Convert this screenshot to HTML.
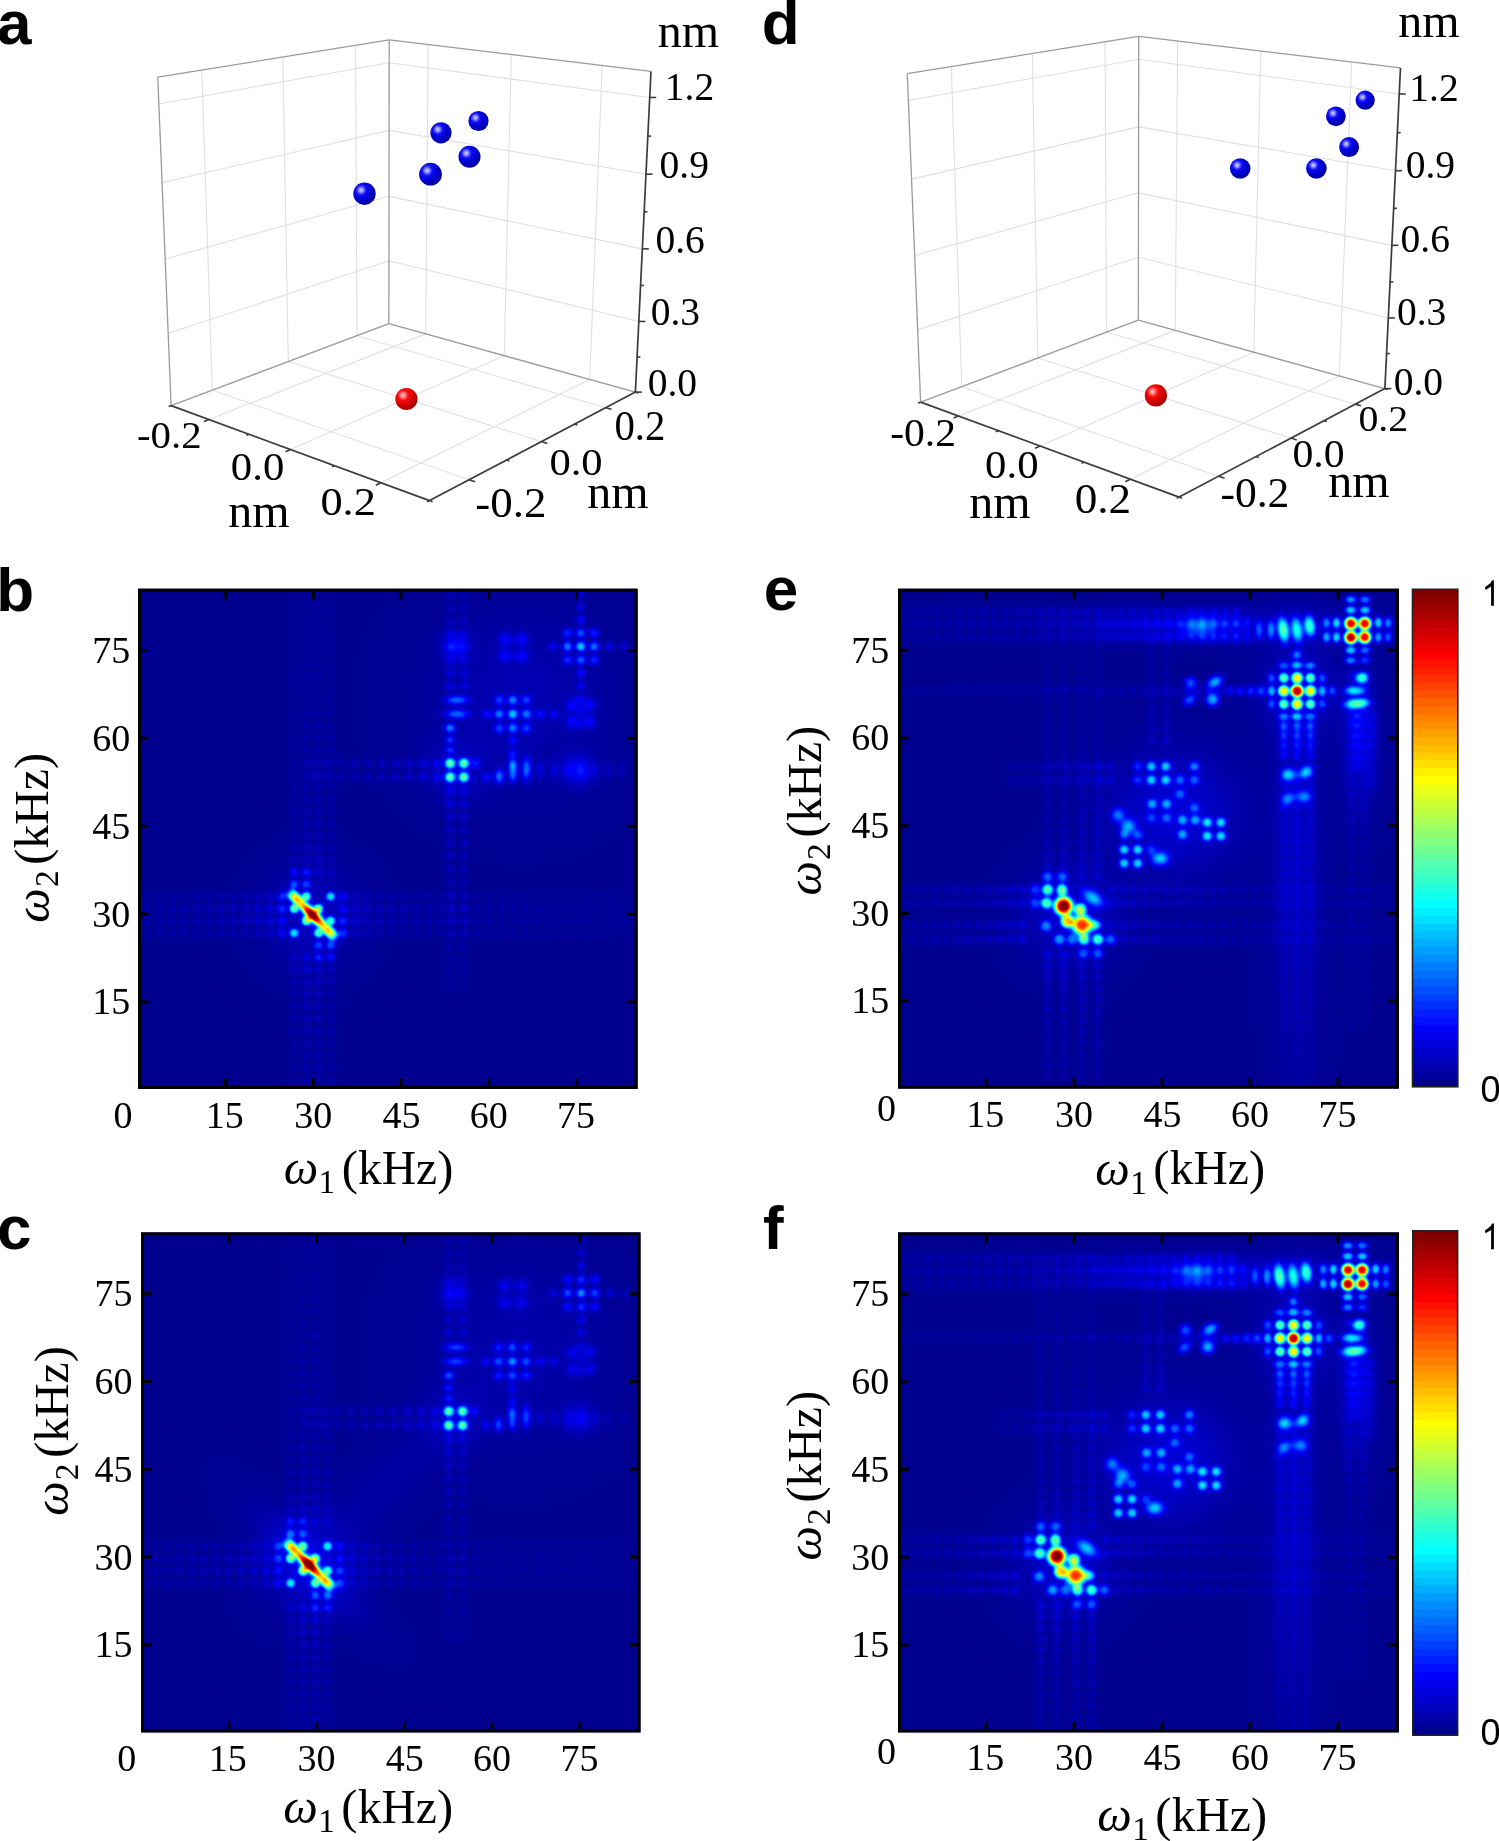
<!DOCTYPE html>
<html><head><meta charset="utf-8"><style>
html,body{margin:0;padding:0;background:#fff;}
body{width:1499px;height:1841px;position:relative;overflow:hidden;}
svg{position:absolute;left:0;top:0;}
canvas{display:block}
</style></head><body>
<svg width="1499" height="1841" style="z-index:0"><defs><filter id="fbb" x="-50%" y="-50%" width="200%" height="200%"><feGaussianBlur stdDeviation="2.5"/></filter></defs><rect x="138" y="588.7" width="499.6" height="500.3" fill="#00008f"/><rect x="141" y="1232.4" width="499.5" height="500" fill="#00008f"/><rect x="898" y="588.7" width="500.9" height="499.9" fill="#00008f"/><rect x="898" y="1232.4" width="500.9" height="500" fill="#00008f"/><ellipse cx="312.4" cy="914.8" rx="28" ry="9" transform="rotate(45 312.4 914.8)" fill="#30d0ff" filter="url(#fbb)"/><ellipse cx="312.4" cy="914.8" rx="22" ry="5" transform="rotate(45 312.4 914.8)" fill="#ffe000" filter="url(#fbb)"/><ellipse cx="312.4" cy="914.8" rx="9" ry="4" transform="rotate(45 312.4 914.8)" fill="#e00000" filter="url(#fbb)"/><ellipse cx="450.1" cy="763.3" rx="4.5" ry="4.5" transform="rotate(0 450.1 763.3)" fill="#20e0ff" filter="url(#fbb)"/><ellipse cx="463.8" cy="763.3" rx="4.5" ry="4.5" transform="rotate(0 463.8 763.3)" fill="#20e0ff" filter="url(#fbb)"/><ellipse cx="450.1" cy="777.2" rx="4.5" ry="4.5" transform="rotate(0 450.1 777.2)" fill="#20e0ff" filter="url(#fbb)"/><ellipse cx="463.8" cy="777.2" rx="4.5" ry="4.5" transform="rotate(0 463.8 777.2)" fill="#20e0ff" filter="url(#fbb)"/><ellipse cx="512.8" cy="714.1" rx="16" ry="16" transform="rotate(0 512.8 714.1)" fill="#0050ff" filter="url(#fbb)"/><ellipse cx="580.8" cy="646.5" rx="16" ry="16" transform="rotate(0 580.8 646.5)" fill="#0050ff" filter="url(#fbb)"/><ellipse cx="309.07" cy="1564.66" rx="28" ry="9" transform="rotate(45 309.07 1564.66)" fill="#30d0ff" filter="url(#fbb)"/><ellipse cx="309.07" cy="1564.66" rx="22" ry="5" transform="rotate(45 309.07 1564.66)" fill="#ffe000" filter="url(#fbb)"/><ellipse cx="309.07" cy="1564.66" rx="9" ry="4" transform="rotate(45 309.07 1564.66)" fill="#e00000" filter="url(#fbb)"/><ellipse cx="448.7" cy="1411.32" rx="4.5" ry="4.5" transform="rotate(0 448.7 1411.32)" fill="#20e0ff" filter="url(#fbb)"/><ellipse cx="462.59" cy="1411.32" rx="4.5" ry="4.5" transform="rotate(0 462.59 1411.32)" fill="#20e0ff" filter="url(#fbb)"/><ellipse cx="448.7" cy="1425.39" rx="4.5" ry="4.5" transform="rotate(0 448.7 1425.39)" fill="#20e0ff" filter="url(#fbb)"/><ellipse cx="462.59" cy="1425.39" rx="4.5" ry="4.5" transform="rotate(0 462.59 1425.39)" fill="#20e0ff" filter="url(#fbb)"/><ellipse cx="512.28" cy="1361.53" rx="16" ry="16" transform="rotate(0 512.28 1361.53)" fill="#0050ff" filter="url(#fbb)"/><ellipse cx="581.24" cy="1293.11" rx="16" ry="16" transform="rotate(0 581.24 1293.11)" fill="#0050ff" filter="url(#fbb)"/><ellipse cx="1070" cy="912" rx="26" ry="16" transform="rotate(45 1070 912)" fill="#20c0ff" filter="url(#fbb)"/><ellipse cx="1063.6" cy="906" rx="8" ry="8" transform="rotate(0 1063.6 906)" fill="#ffd000" filter="url(#fbb)"/><ellipse cx="1063.6" cy="906" rx="5" ry="5" transform="rotate(0 1063.6 906)" fill="#b00000" filter="url(#fbb)"/><ellipse cx="1082" cy="925" rx="7" ry="7" transform="rotate(0 1082 925)" fill="#ffb000" filter="url(#fbb)"/><ellipse cx="1082" cy="925" rx="4" ry="4" transform="rotate(0 1082 925)" fill="#ff4000" filter="url(#fbb)"/><ellipse cx="1357.8" cy="630.4" rx="13" ry="13" transform="rotate(0 1357.8 630.4)" fill="#40ffc0" filter="url(#fbb)"/><ellipse cx="1350.9" cy="623.5" rx="4" ry="4" transform="rotate(0 1350.9 623.5)" fill="#e00000" filter="url(#fbb)"/><ellipse cx="1364.8" cy="623.5" rx="4" ry="4" transform="rotate(0 1364.8 623.5)" fill="#e00000" filter="url(#fbb)"/><ellipse cx="1350.8" cy="637.5" rx="4" ry="4" transform="rotate(0 1350.8 637.5)" fill="#c00000" filter="url(#fbb)"/><ellipse cx="1364.7" cy="637.2" rx="4" ry="4" transform="rotate(0 1364.7 637.2)" fill="#e00000" filter="url(#fbb)"/><ellipse cx="1297.1" cy="691" rx="17" ry="17" transform="rotate(0 1297.1 691)" fill="#30e0d0" filter="url(#fbb)"/><ellipse cx="1297.1" cy="691" rx="5" ry="5" transform="rotate(0 1297.1 691)" fill="#ff2000" filter="url(#fbb)"/><ellipse cx="1296.9" cy="630" rx="16" ry="9" transform="rotate(0 1296.9 630)" fill="#0090ff" filter="url(#fbb)"/><ellipse cx="1358" cy="692" rx="10" ry="16" transform="rotate(0 1358 692)" fill="#1090ff" filter="url(#fbb)"/><ellipse cx="1175" cy="812" rx="45" ry="40" transform="rotate(0 1175 812)" fill="#0008b8" filter="url(#fbb)"/><ellipse cx="1063.43" cy="1562.33" rx="26" ry="16" transform="rotate(45 1063.43 1562.33)" fill="#20c0ff" filter="url(#fbb)"/><ellipse cx="1056.95" cy="1556.25" rx="8" ry="8" transform="rotate(0 1056.95 1556.25)" fill="#ffd000" filter="url(#fbb)"/><ellipse cx="1056.95" cy="1556.25" rx="5" ry="5" transform="rotate(0 1056.95 1556.25)" fill="#b00000" filter="url(#fbb)"/><ellipse cx="1075.59" cy="1575.51" rx="7" ry="7" transform="rotate(0 1075.59 1575.51)" fill="#ffb000" filter="url(#fbb)"/><ellipse cx="1075.59" cy="1575.51" rx="4" ry="4" transform="rotate(0 1075.59 1575.51)" fill="#ff4000" filter="url(#fbb)"/><ellipse cx="1354.97" cy="1276.93" rx="13" ry="13" transform="rotate(0 1354.97 1276.93)" fill="#40ffc0" filter="url(#fbb)"/><ellipse cx="1347.99" cy="1269.93" rx="4" ry="4" transform="rotate(0 1347.99 1269.93)" fill="#e00000" filter="url(#fbb)"/><ellipse cx="1362.07" cy="1269.93" rx="4" ry="4" transform="rotate(0 1362.07 1269.93)" fill="#e00000" filter="url(#fbb)"/><ellipse cx="1347.88" cy="1284.12" rx="4" ry="4" transform="rotate(0 1347.88 1284.12)" fill="#c00000" filter="url(#fbb)"/><ellipse cx="1361.96" cy="1283.82" rx="4" ry="4" transform="rotate(0 1361.96 1283.82)" fill="#e00000" filter="url(#fbb)"/><ellipse cx="1293.49" cy="1338.35" rx="17" ry="17" transform="rotate(0 1293.49 1338.35)" fill="#30e0d0" filter="url(#fbb)"/><ellipse cx="1293.49" cy="1338.35" rx="5" ry="5" transform="rotate(0 1293.49 1338.35)" fill="#ff2000" filter="url(#fbb)"/><ellipse cx="1293.28" cy="1276.52" rx="16" ry="9" transform="rotate(0 1293.28 1276.52)" fill="#0090ff" filter="url(#fbb)"/><ellipse cx="1355.18" cy="1339.36" rx="10" ry="16" transform="rotate(0 1355.18 1339.36)" fill="#1090ff" filter="url(#fbb)"/><ellipse cx="1169.8" cy="1460.98" rx="45" ry="40" transform="rotate(0 1169.8 1460.98)" fill="#0008b8" filter="url(#fbb)"/></svg>
<canvas id="hmb" width="496" height="498" style="position:absolute;left:140px;top:590px"></canvas><canvas id="hmc" width="496" height="497" style="position:absolute;left:143px;top:1234px"></canvas><canvas id="hme" width="497" height="497" style="position:absolute;left:900px;top:590px"></canvas><canvas id="hmf" width="497" height="497" style="position:absolute;left:900px;top:1234px"></canvas>
<svg width="1499" height="1841" style="z-index:2"><defs><linearGradient id="cb" x1="0" y1="1" x2="0" y2="0"><stop offset="0.00000" stop-color="#00008f"/><stop offset="0.01562" stop-color="#00008f"/><stop offset="0.01562" stop-color="#00009f"/><stop offset="0.03125" stop-color="#00009f"/><stop offset="0.03125" stop-color="#0000af"/><stop offset="0.04688" stop-color="#0000af"/><stop offset="0.04688" stop-color="#0000bf"/><stop offset="0.06250" stop-color="#0000bf"/><stop offset="0.06250" stop-color="#0000cf"/><stop offset="0.07812" stop-color="#0000cf"/><stop offset="0.07812" stop-color="#0000df"/><stop offset="0.09375" stop-color="#0000df"/><stop offset="0.09375" stop-color="#0000ef"/><stop offset="0.10938" stop-color="#0000ef"/><stop offset="0.10938" stop-color="#0000ff"/><stop offset="0.12500" stop-color="#0000ff"/><stop offset="0.12500" stop-color="#0010ff"/><stop offset="0.14062" stop-color="#0010ff"/><stop offset="0.14062" stop-color="#0020ff"/><stop offset="0.15625" stop-color="#0020ff"/><stop offset="0.15625" stop-color="#0030ff"/><stop offset="0.17188" stop-color="#0030ff"/><stop offset="0.17188" stop-color="#0040ff"/><stop offset="0.18750" stop-color="#0040ff"/><stop offset="0.18750" stop-color="#0050ff"/><stop offset="0.20312" stop-color="#0050ff"/><stop offset="0.20312" stop-color="#0060ff"/><stop offset="0.21875" stop-color="#0060ff"/><stop offset="0.21875" stop-color="#0070ff"/><stop offset="0.23438" stop-color="#0070ff"/><stop offset="0.23438" stop-color="#0080ff"/><stop offset="0.25000" stop-color="#0080ff"/><stop offset="0.25000" stop-color="#008fff"/><stop offset="0.26562" stop-color="#008fff"/><stop offset="0.26562" stop-color="#009fff"/><stop offset="0.28125" stop-color="#009fff"/><stop offset="0.28125" stop-color="#00afff"/><stop offset="0.29688" stop-color="#00afff"/><stop offset="0.29688" stop-color="#00bfff"/><stop offset="0.31250" stop-color="#00bfff"/><stop offset="0.31250" stop-color="#00cfff"/><stop offset="0.32812" stop-color="#00cfff"/><stop offset="0.32812" stop-color="#00dfff"/><stop offset="0.34375" stop-color="#00dfff"/><stop offset="0.34375" stop-color="#00efff"/><stop offset="0.35938" stop-color="#00efff"/><stop offset="0.35938" stop-color="#00ffff"/><stop offset="0.37500" stop-color="#00ffff"/><stop offset="0.37500" stop-color="#10ffef"/><stop offset="0.39062" stop-color="#10ffef"/><stop offset="0.39062" stop-color="#20ffdf"/><stop offset="0.40625" stop-color="#20ffdf"/><stop offset="0.40625" stop-color="#30ffcf"/><stop offset="0.42188" stop-color="#30ffcf"/><stop offset="0.42188" stop-color="#40ffbf"/><stop offset="0.43750" stop-color="#40ffbf"/><stop offset="0.43750" stop-color="#50ffaf"/><stop offset="0.45312" stop-color="#50ffaf"/><stop offset="0.45312" stop-color="#60ff9f"/><stop offset="0.46875" stop-color="#60ff9f"/><stop offset="0.46875" stop-color="#70ff8f"/><stop offset="0.48438" stop-color="#70ff8f"/><stop offset="0.48438" stop-color="#80ff80"/><stop offset="0.50000" stop-color="#80ff80"/><stop offset="0.50000" stop-color="#8fff70"/><stop offset="0.51562" stop-color="#8fff70"/><stop offset="0.51562" stop-color="#9fff60"/><stop offset="0.53125" stop-color="#9fff60"/><stop offset="0.53125" stop-color="#afff50"/><stop offset="0.54688" stop-color="#afff50"/><stop offset="0.54688" stop-color="#bfff40"/><stop offset="0.56250" stop-color="#bfff40"/><stop offset="0.56250" stop-color="#cfff30"/><stop offset="0.57812" stop-color="#cfff30"/><stop offset="0.57812" stop-color="#dfff20"/><stop offset="0.59375" stop-color="#dfff20"/><stop offset="0.59375" stop-color="#efff10"/><stop offset="0.60938" stop-color="#efff10"/><stop offset="0.60938" stop-color="#ffff00"/><stop offset="0.62500" stop-color="#ffff00"/><stop offset="0.62500" stop-color="#ffef00"/><stop offset="0.64062" stop-color="#ffef00"/><stop offset="0.64062" stop-color="#ffdf00"/><stop offset="0.65625" stop-color="#ffdf00"/><stop offset="0.65625" stop-color="#ffcf00"/><stop offset="0.67188" stop-color="#ffcf00"/><stop offset="0.67188" stop-color="#ffbf00"/><stop offset="0.68750" stop-color="#ffbf00"/><stop offset="0.68750" stop-color="#ffaf00"/><stop offset="0.70312" stop-color="#ffaf00"/><stop offset="0.70312" stop-color="#ff9f00"/><stop offset="0.71875" stop-color="#ff9f00"/><stop offset="0.71875" stop-color="#ff8f00"/><stop offset="0.73438" stop-color="#ff8f00"/><stop offset="0.73438" stop-color="#ff8000"/><stop offset="0.75000" stop-color="#ff8000"/><stop offset="0.75000" stop-color="#ff7000"/><stop offset="0.76562" stop-color="#ff7000"/><stop offset="0.76562" stop-color="#ff6000"/><stop offset="0.78125" stop-color="#ff6000"/><stop offset="0.78125" stop-color="#ff5000"/><stop offset="0.79688" stop-color="#ff5000"/><stop offset="0.79688" stop-color="#ff4000"/><stop offset="0.81250" stop-color="#ff4000"/><stop offset="0.81250" stop-color="#ff3000"/><stop offset="0.82812" stop-color="#ff3000"/><stop offset="0.82812" stop-color="#ff2000"/><stop offset="0.84375" stop-color="#ff2000"/><stop offset="0.84375" stop-color="#ff1000"/><stop offset="0.85938" stop-color="#ff1000"/><stop offset="0.85938" stop-color="#ff0000"/><stop offset="0.87500" stop-color="#ff0000"/><stop offset="0.87500" stop-color="#ef0000"/><stop offset="0.89062" stop-color="#ef0000"/><stop offset="0.89062" stop-color="#df0000"/><stop offset="0.90625" stop-color="#df0000"/><stop offset="0.90625" stop-color="#cf0000"/><stop offset="0.92188" stop-color="#cf0000"/><stop offset="0.92188" stop-color="#bf0000"/><stop offset="0.93750" stop-color="#bf0000"/><stop offset="0.93750" stop-color="#af0000"/><stop offset="0.95312" stop-color="#af0000"/><stop offset="0.95312" stop-color="#9f0000"/><stop offset="0.96875" stop-color="#9f0000"/><stop offset="0.96875" stop-color="#8f0000"/><stop offset="0.98438" stop-color="#8f0000"/><stop offset="0.98438" stop-color="#800000"/><stop offset="1.00000" stop-color="#800000"/></linearGradient><radialGradient id="gb" cx="0.36" cy="0.33" r="0.8"><stop offset="0" stop-color="#3030ff"/><stop offset="0.3" stop-color="#0a0af6"/><stop offset="0.6" stop-color="#0000c4"/><stop offset="0.85" stop-color="#00009a"/><stop offset="1" stop-color="#000088"/></radialGradient><radialGradient id="gbh" cx="0.35" cy="0.34" r="0.26"><stop offset="0" stop-color="#dcdcff"/><stop offset="0.45" stop-color="#a8a8ff" stop-opacity="0.7"/><stop offset="1" stop-color="#4040ff" stop-opacity="0"/></radialGradient><radialGradient id="gr" cx="0.36" cy="0.33" r="0.8"><stop offset="0" stop-color="#ff3030"/><stop offset="0.3" stop-color="#f80a0a"/><stop offset="0.6" stop-color="#cc0000"/><stop offset="0.85" stop-color="#a40000"/><stop offset="1" stop-color="#980000"/></radialGradient><radialGradient id="grh" cx="0.35" cy="0.33" r="0.26"><stop offset="0" stop-color="#ffd4d4"/><stop offset="0.45" stop-color="#ffa0a0" stop-opacity="0.7"/><stop offset="1" stop-color="#ff4040" stop-opacity="0"/></radialGradient></defs><g><line x1="168.18" y1="333.39" x2="388.94" y2="260.75" stroke="#e0e0e0" stroke-width="1.1"/>
<line x1="388.94" y1="260.75" x2="638.82" y2="321.45" stroke="#e0e0e0" stroke-width="1.1"/>
<line x1="165.16" y1="259.07" x2="389.02" y2="196.34" stroke="#e0e0e0" stroke-width="1.1"/>
<line x1="389.02" y1="196.34" x2="642.35" y2="248.85" stroke="#e0e0e0" stroke-width="1.1"/>
<line x1="162.06" y1="182.63" x2="389.11" y2="130.36" stroke="#e0e0e0" stroke-width="1.1"/>
<line x1="389.11" y1="130.36" x2="645.99" y2="174.22" stroke="#e0e0e0" stroke-width="1.1"/>
<line x1="158.86" y1="103.96" x2="389.19" y2="62.74" stroke="#e0e0e0" stroke-width="1.1"/>
<line x1="389.19" y1="62.74" x2="649.72" y2="97.48" stroke="#e0e0e0" stroke-width="1.1"/>
<line x1="212.27" y1="390.16" x2="201.83" y2="70.11" stroke="#e0e0e0" stroke-width="1.1"/>
<line x1="425.75" y1="333.88" x2="428.15" y2="44.53" stroke="#e0e0e0" stroke-width="1.1"/>
<line x1="209.05" y1="419.6" x2="425.75" y2="333.88" stroke="#e0e0e0" stroke-width="1.1"/>
<line x1="212.27" y1="390.16" x2="469.18" y2="479.73" stroke="#e0e0e0" stroke-width="1.1"/>
<line x1="288.29" y1="361.52" x2="282.84" y2="57.02" stroke="#e0e0e0" stroke-width="1.1"/>
<line x1="504.25" y1="355.69" x2="511.27" y2="54.56" stroke="#e0e0e0" stroke-width="1.1"/>
<line x1="290.62" y1="449.57" x2="504.25" y2="355.69" stroke="#e0e0e0" stroke-width="1.1"/>
<line x1="288.29" y1="361.52" x2="541.48" y2="441.61" stroke="#e0e0e0" stroke-width="1.1"/>
<line x1="356.95" y1="335.66" x2="355.57" y2="45.27" stroke="#e0e0e0" stroke-width="1.1"/>
<line x1="589.72" y1="379.43" x2="602.22" y2="65.53" stroke="#e0e0e0" stroke-width="1.1"/>
<line x1="380.8" y1="482.7" x2="589.72" y2="379.43" stroke="#e0e0e0" stroke-width="1.1"/>
<line x1="356.95" y1="335.66" x2="605.8" y2="407.7" stroke="#e0e0e0" stroke-width="1.1"/>
<line x1="157.77" y1="77.23" x2="389.22" y2="39.83" stroke="#9a9a9a" stroke-width="1.3"/>
<line x1="389.22" y1="39.83" x2="650.99" y2="71.42" stroke="#9a9a9a" stroke-width="1.3"/>
<line x1="171.12" y1="405.67" x2="157.77" y2="77.23" stroke="#9a9a9a" stroke-width="1.3"/>
<line x1="388.85" y1="323.64" x2="389.22" y2="39.83" stroke="#9a9a9a" stroke-width="1.3"/>
<line x1="171.12" y1="405.67" x2="388.85" y2="323.64" stroke="#9a9a9a" stroke-width="1.3"/>
<line x1="388.85" y1="323.64" x2="635.38" y2="392.11" stroke="#9a9a9a" stroke-width="1.3"/>
<line x1="171.12" y1="405.67" x2="429.56" y2="500.62" stroke="#3c3c3c" stroke-width="1.7"/>
<line x1="429.56" y1="500.62" x2="635.38" y2="392.11" stroke="#3c3c3c" stroke-width="1.7"/>
<line x1="635.38" y1="392.11" x2="650.99" y2="71.42" stroke="#3c3c3c" stroke-width="1.7"/>
<line x1="171.12" y1="405.67" x2="168.58" y2="406.62" stroke="#3c3c3c" stroke-width="1.6"/>
<line x1="209.05" y1="419.6" x2="203.97" y2="421.61" stroke="#3c3c3c" stroke-width="1.6"/>
<line x1="248.84" y1="434.22" x2="246.31" y2="435.27" stroke="#3c3c3c" stroke-width="1.6"/>
<line x1="290.62" y1="449.57" x2="285.58" y2="451.79" stroke="#3c3c3c" stroke-width="1.6"/>
<line x1="334.55" y1="465.71" x2="332.05" y2="466.88" stroke="#3c3c3c" stroke-width="1.6"/>
<line x1="380.8" y1="482.7" x2="375.83" y2="485.16" stroke="#3c3c3c" stroke-width="1.6"/>
<line x1="429.56" y1="500.62" x2="427.1" y2="501.91" stroke="#3c3c3c" stroke-width="1.6"/>
<line x1="429.56" y1="500.62" x2="432.57" y2="501.72" stroke="#3c3c3c" stroke-width="1.6"/>
<line x1="469.18" y1="479.73" x2="475.14" y2="481.81" stroke="#3c3c3c" stroke-width="1.6"/>
<line x1="506.42" y1="460.1" x2="509.36" y2="461.07" stroke="#3c3c3c" stroke-width="1.6"/>
<line x1="541.48" y1="441.61" x2="547.31" y2="443.46" stroke="#3c3c3c" stroke-width="1.6"/>
<line x1="574.55" y1="424.17" x2="577.43" y2="425.04" stroke="#3c3c3c" stroke-width="1.6"/>
<line x1="605.8" y1="407.7" x2="611.5" y2="409.35" stroke="#3c3c3c" stroke-width="1.6"/>
<line x1="635.38" y1="392.11" x2="638.18" y2="392.89" stroke="#3c3c3c" stroke-width="1.6"/>
<line x1="635.38" y1="392.11" x2="641.88" y2="392.11" stroke="#3c3c3c" stroke-width="1.6"/>
<line x1="637.09" y1="357.02" x2="640.39" y2="357.02" stroke="#3c3c3c" stroke-width="1.6"/>
<line x1="638.82" y1="321.45" x2="645.32" y2="321.45" stroke="#3c3c3c" stroke-width="1.6"/>
<line x1="640.57" y1="285.4" x2="643.87" y2="285.4" stroke="#3c3c3c" stroke-width="1.6"/>
<line x1="642.35" y1="248.85" x2="648.85" y2="248.85" stroke="#3c3c3c" stroke-width="1.6"/>
<line x1="644.16" y1="211.8" x2="647.46" y2="211.8" stroke="#3c3c3c" stroke-width="1.6"/>
<line x1="645.99" y1="174.22" x2="652.49" y2="174.22" stroke="#3c3c3c" stroke-width="1.6"/>
<line x1="647.84" y1="136.12" x2="651.14" y2="136.12" stroke="#3c3c3c" stroke-width="1.6"/>
<line x1="649.72" y1="97.48" x2="656.22" y2="97.48" stroke="#3c3c3c" stroke-width="1.6"/></g>
<g><line x1="917.68" y1="329.89" x2="1138.44" y2="257.25" stroke="#e0e0e0" stroke-width="1.1"/>
<line x1="1138.44" y1="257.25" x2="1388.32" y2="317.95" stroke="#e0e0e0" stroke-width="1.1"/>
<line x1="914.66" y1="255.57" x2="1138.52" y2="192.84" stroke="#e0e0e0" stroke-width="1.1"/>
<line x1="1138.52" y1="192.84" x2="1391.85" y2="245.35" stroke="#e0e0e0" stroke-width="1.1"/>
<line x1="911.56" y1="179.13" x2="1138.61" y2="126.86" stroke="#e0e0e0" stroke-width="1.1"/>
<line x1="1138.61" y1="126.86" x2="1395.49" y2="170.72" stroke="#e0e0e0" stroke-width="1.1"/>
<line x1="908.36" y1="100.46" x2="1138.69" y2="59.24" stroke="#e0e0e0" stroke-width="1.1"/>
<line x1="1138.69" y1="59.24" x2="1399.22" y2="93.98" stroke="#e0e0e0" stroke-width="1.1"/>
<line x1="961.77" y1="386.66" x2="951.33" y2="66.61" stroke="#e0e0e0" stroke-width="1.1"/>
<line x1="1175.25" y1="330.38" x2="1177.65" y2="41.03" stroke="#e0e0e0" stroke-width="1.1"/>
<line x1="958.55" y1="416.1" x2="1175.25" y2="330.38" stroke="#e0e0e0" stroke-width="1.1"/>
<line x1="961.77" y1="386.66" x2="1218.68" y2="476.23" stroke="#e0e0e0" stroke-width="1.1"/>
<line x1="1037.79" y1="358.02" x2="1032.34" y2="53.52" stroke="#e0e0e0" stroke-width="1.1"/>
<line x1="1253.75" y1="352.19" x2="1260.77" y2="51.06" stroke="#e0e0e0" stroke-width="1.1"/>
<line x1="1040.12" y1="446.07" x2="1253.75" y2="352.19" stroke="#e0e0e0" stroke-width="1.1"/>
<line x1="1037.79" y1="358.02" x2="1290.98" y2="438.11" stroke="#e0e0e0" stroke-width="1.1"/>
<line x1="1106.45" y1="332.16" x2="1105.07" y2="41.77" stroke="#e0e0e0" stroke-width="1.1"/>
<line x1="1339.22" y1="375.93" x2="1351.72" y2="62.03" stroke="#e0e0e0" stroke-width="1.1"/>
<line x1="1130.3" y1="479.2" x2="1339.22" y2="375.93" stroke="#e0e0e0" stroke-width="1.1"/>
<line x1="1106.45" y1="332.16" x2="1355.3" y2="404.2" stroke="#e0e0e0" stroke-width="1.1"/>
<line x1="907.27" y1="73.73" x2="1138.72" y2="36.33" stroke="#9a9a9a" stroke-width="1.3"/>
<line x1="1138.72" y1="36.33" x2="1400.49" y2="67.92" stroke="#9a9a9a" stroke-width="1.3"/>
<line x1="920.62" y1="402.17" x2="907.27" y2="73.73" stroke="#9a9a9a" stroke-width="1.3"/>
<line x1="1138.35" y1="320.14" x2="1138.72" y2="36.33" stroke="#9a9a9a" stroke-width="1.3"/>
<line x1="920.62" y1="402.17" x2="1138.35" y2="320.14" stroke="#9a9a9a" stroke-width="1.3"/>
<line x1="1138.35" y1="320.14" x2="1384.88" y2="388.61" stroke="#9a9a9a" stroke-width="1.3"/>
<line x1="920.62" y1="402.17" x2="1179.06" y2="497.12" stroke="#3c3c3c" stroke-width="1.7"/>
<line x1="1179.06" y1="497.12" x2="1384.88" y2="388.61" stroke="#3c3c3c" stroke-width="1.7"/>
<line x1="1384.88" y1="388.61" x2="1400.49" y2="67.92" stroke="#3c3c3c" stroke-width="1.7"/>
<line x1="920.62" y1="402.17" x2="918.08" y2="403.12" stroke="#3c3c3c" stroke-width="1.6"/>
<line x1="958.55" y1="416.1" x2="953.47" y2="418.11" stroke="#3c3c3c" stroke-width="1.6"/>
<line x1="998.34" y1="430.72" x2="995.81" y2="431.77" stroke="#3c3c3c" stroke-width="1.6"/>
<line x1="1040.12" y1="446.07" x2="1035.08" y2="448.29" stroke="#3c3c3c" stroke-width="1.6"/>
<line x1="1084.05" y1="462.21" x2="1081.55" y2="463.38" stroke="#3c3c3c" stroke-width="1.6"/>
<line x1="1130.3" y1="479.2" x2="1125.33" y2="481.66" stroke="#3c3c3c" stroke-width="1.6"/>
<line x1="1179.06" y1="497.12" x2="1176.6" y2="498.41" stroke="#3c3c3c" stroke-width="1.6"/>
<line x1="1179.06" y1="497.12" x2="1182.07" y2="498.22" stroke="#3c3c3c" stroke-width="1.6"/>
<line x1="1218.68" y1="476.23" x2="1224.64" y2="478.31" stroke="#3c3c3c" stroke-width="1.6"/>
<line x1="1255.92" y1="456.6" x2="1258.86" y2="457.57" stroke="#3c3c3c" stroke-width="1.6"/>
<line x1="1290.98" y1="438.11" x2="1296.81" y2="439.96" stroke="#3c3c3c" stroke-width="1.6"/>
<line x1="1324.05" y1="420.67" x2="1326.93" y2="421.54" stroke="#3c3c3c" stroke-width="1.6"/>
<line x1="1355.3" y1="404.2" x2="1361" y2="405.85" stroke="#3c3c3c" stroke-width="1.6"/>
<line x1="1384.88" y1="388.61" x2="1387.68" y2="389.39" stroke="#3c3c3c" stroke-width="1.6"/>
<line x1="1384.88" y1="388.61" x2="1391.38" y2="388.61" stroke="#3c3c3c" stroke-width="1.6"/>
<line x1="1386.59" y1="353.52" x2="1389.89" y2="353.52" stroke="#3c3c3c" stroke-width="1.6"/>
<line x1="1388.32" y1="317.95" x2="1394.82" y2="317.95" stroke="#3c3c3c" stroke-width="1.6"/>
<line x1="1390.07" y1="281.9" x2="1393.37" y2="281.9" stroke="#3c3c3c" stroke-width="1.6"/>
<line x1="1391.85" y1="245.35" x2="1398.35" y2="245.35" stroke="#3c3c3c" stroke-width="1.6"/>
<line x1="1393.66" y1="208.3" x2="1396.96" y2="208.3" stroke="#3c3c3c" stroke-width="1.6"/>
<line x1="1395.49" y1="170.72" x2="1401.99" y2="170.72" stroke="#3c3c3c" stroke-width="1.6"/>
<line x1="1397.34" y1="132.62" x2="1400.64" y2="132.62" stroke="#3c3c3c" stroke-width="1.6"/>
<line x1="1399.22" y1="93.98" x2="1405.72" y2="93.98" stroke="#3c3c3c" stroke-width="1.6"/></g>
<circle cx="364.5" cy="193.7" r="11.2" fill="url(#gb)"/><circle cx="364.5" cy="193.7" r="11.2" fill="url(#gbh)"/>
<circle cx="430.5" cy="174.2" r="11.4" fill="url(#gb)"/><circle cx="430.5" cy="174.2" r="11.4" fill="url(#gbh)"/>
<circle cx="441" cy="132.8" r="10.6" fill="url(#gb)"/><circle cx="441" cy="132.8" r="10.6" fill="url(#gbh)"/>
<circle cx="469.5" cy="156.7" r="11" fill="url(#gb)"/><circle cx="469.5" cy="156.7" r="11" fill="url(#gbh)"/>
<circle cx="478.5" cy="121" r="10.1" fill="url(#gb)"/><circle cx="478.5" cy="121" r="10.1" fill="url(#gbh)"/>
<circle cx="406.4" cy="399" r="11.1" fill="url(#gr)"/><circle cx="406.4" cy="399" r="11.1" fill="url(#grh)"/>
<circle cx="1240.2" cy="168.5" r="10.3" fill="url(#gb)"/><circle cx="1240.2" cy="168.5" r="10.3" fill="url(#gbh)"/>
<circle cx="1316.4" cy="168.5" r="10.3" fill="url(#gb)"/><circle cx="1316.4" cy="168.5" r="10.3" fill="url(#gbh)"/>
<circle cx="1335.9" cy="116.3" r="9.9" fill="url(#gb)"/><circle cx="1335.9" cy="116.3" r="9.9" fill="url(#gbh)"/>
<circle cx="1365.2" cy="100.2" r="9.6" fill="url(#gb)"/><circle cx="1365.2" cy="100.2" r="9.6" fill="url(#gbh)"/>
<circle cx="1349.1" cy="147.1" r="10" fill="url(#gb)"/><circle cx="1349.1" cy="147.1" r="10" fill="url(#gbh)"/>
<circle cx="1155.9" cy="395.4" r="11.1" fill="url(#gr)"/><circle cx="1155.9" cy="395.4" r="11.1" fill="url(#grh)"/>
<text x="664.82" y="100.25" font-family="Liberation Serif" font-size="39.5">1.2</text>
<text x="659.62" y="177.5" font-family="Liberation Serif" font-size="39.5">0.9</text>
<text x="655.45" y="252.55" font-family="Liberation Serif" font-size="39.5">0.6</text>
<text x="650.73" y="325.35" font-family="Liberation Serif" font-size="39.5">0.3</text>
<text x="647.71" y="396.25" font-family="Liberation Serif" font-size="39.5">0.0</text>
<text x="1409.37" y="100.8" font-family="Liberation Serif" font-size="39.5">1.2</text>
<text x="1405.72" y="178" font-family="Liberation Serif" font-size="39.5">0.9</text>
<text x="1400.6" y="252.35" font-family="Liberation Serif" font-size="39.5">0.6</text>
<text x="1396.98" y="325.35" font-family="Liberation Serif" font-size="39.5">0.3</text>
<text x="1393.66" y="394.95" font-family="Liberation Serif" font-size="39.5">0.0</text>
<text transform="translate(136.98 447.77) scale(1.084 1)" font-family="Liberation Serif" font-size="37.69">-0.2</text>
<text transform="translate(230.87 479.75) scale(1.090 1)" font-family="Liberation Serif" font-size="39.16">0.0</text>
<text transform="translate(320.41 515.02) scale(1.084 1)" font-family="Liberation Serif" font-size="40.93">0.2</text>
<text transform="translate(475.33 517.4) scale(1.053 1)" font-family="Liberation Serif" font-size="42.7">-0.2</text>
<text transform="translate(549.38 475.46) scale(1.113 1)" font-family="Liberation Serif" font-size="38.28">0.0</text>
<text transform="translate(614.45 440.32) scale(0.990 1)" font-family="Liberation Serif" font-size="41.23">0.2</text>
<text transform="translate(890.16 445.64) scale(1.058 1)" font-family="Liberation Serif" font-size="39.31">-0.2</text>
<text transform="translate(985.07 477.62) scale(1.049 1)" font-family="Liberation Serif" font-size="40.78">0.0</text>
<text transform="translate(1074.68 512.8) scale(1.066 1)" font-family="Liberation Serif" font-size="42.4">0.2</text>
<text transform="translate(1358.49 431.48) scale(1.080 1)" font-family="Liberation Serif" font-size="36.81">0.2</text>
<text transform="translate(1292.41 467.44) scale(1.050 1)" font-family="Liberation Serif" font-size="39.75">0.0</text>
<text transform="translate(1220.38 507.4) scale(1.021 1)" font-family="Liberation Serif" font-size="42.7">-0.2</text>
<text x="657.71" y="47.41" font-family="Liberation Serif" font-size="48">nm</text>
<text x="228.31" y="527.41" font-family="Liberation Serif" font-size="48">nm</text>
<text x="587.16" y="508.31" font-family="Liberation Serif" font-size="48">nm</text>
<text x="1398.36" y="36.81" font-family="Liberation Serif" font-size="48">nm</text>
<text x="969.21" y="518.36" font-family="Liberation Serif" font-size="48">nm</text>
<text x="1328.16" y="497.31" font-family="Liberation Serif" font-size="48">nm</text>
<text x="-3" y="44.08" font-family="Liberation Sans" font-weight="bold" font-size="62">a</text>
<text x="-3.86" y="610.81" font-family="Liberation Sans" font-weight="bold" font-size="62">b</text>
<text x="-3.04" y="1248.83" font-family="Liberation Sans" font-weight="bold" font-size="62">c</text>
<text x="763.76" y="610.38" font-family="Liberation Sans" font-weight="bold" font-size="62">e</text>
<text x="763.09" y="1248.61" font-family="Liberation Sans" font-weight="bold" font-size="62">f</text>
<text x="761.74" y="44" font-family="Liberation Sans" font-weight="bold" font-size="62">d</text>
<rect x="139.5" y="590.2" width="496.6" height="497.3" fill="none" stroke="#000" stroke-width="3"/>
<path d="M225.7 591.7v7.5M225.7 1086v-7.5" stroke="#000" stroke-width="3"/>
<path d="M313.4 591.7v7.5M313.4 1086v-7.5" stroke="#000" stroke-width="3"/>
<path d="M401.1 591.7v7.5M401.1 1086v-7.5" stroke="#000" stroke-width="3"/>
<path d="M488.8 591.7v7.5M488.8 1086v-7.5" stroke="#000" stroke-width="3"/>
<path d="M576.5 591.7v7.5M576.5 1086v-7.5" stroke="#000" stroke-width="3"/>
<path d="M141 650.4h7.5M634.6 650.4h-7.5" stroke="#000" stroke-width="3"/>
<path d="M141 738.3h7.5M634.6 738.3h-7.5" stroke="#000" stroke-width="3"/>
<path d="M141 826.2h7.5M634.6 826.2h-7.5" stroke="#000" stroke-width="3"/>
<path d="M141 914.1h7.5M634.6 914.1h-7.5" stroke="#000" stroke-width="3"/>
<path d="M141 1002h7.5M634.6 1002h-7.5" stroke="#000" stroke-width="3"/>
<text x="92.18" y="662.66" font-family="Liberation Serif" font-size="38">75</text>
<text x="92.15" y="750.75" font-family="Liberation Serif" font-size="38">60</text>
<text x="92.18" y="838.52" font-family="Liberation Serif" font-size="38">45</text>
<text x="92.15" y="926.55" font-family="Liberation Serif" font-size="38">30</text>
<text x="92.18" y="1014.36" font-family="Liberation Serif" font-size="38">15</text>
<text x="205.77" y="1127.86" font-family="Liberation Serif" font-size="38">15</text>
<text x="294.21" y="1127.95" font-family="Liberation Serif" font-size="38">30</text>
<text x="382.47" y="1127.82" font-family="Liberation Serif" font-size="38">45</text>
<text x="469.71" y="1127.95" font-family="Liberation Serif" font-size="38">60</text>
<text x="556.99" y="1127.76" font-family="Liberation Serif" font-size="38">75</text>
<text x="113.5" y="1127.95" font-family="Liberation Serif" font-size="38">0</text>
<rect x="142.5" y="1233.9" width="496.5" height="497" fill="none" stroke="#000" stroke-width="3"/>
<path d="M228.8 1235.4v7.5M228.8 1729.4v-7.5" stroke="#000" stroke-width="3"/>
<path d="M316.6 1235.4v7.5M316.6 1729.4v-7.5" stroke="#000" stroke-width="3"/>
<path d="M404.4 1235.4v7.5M404.4 1729.4v-7.5" stroke="#000" stroke-width="3"/>
<path d="M492.2 1235.4v7.5M492.2 1729.4v-7.5" stroke="#000" stroke-width="3"/>
<path d="M580 1235.4v7.5M580 1729.4v-7.5" stroke="#000" stroke-width="3"/>
<path d="M144 1293.7h7.5M637.5 1293.7h-7.5" stroke="#000" stroke-width="3"/>
<path d="M144 1381.5h7.5M637.5 1381.5h-7.5" stroke="#000" stroke-width="3"/>
<path d="M144 1469.3h7.5M637.5 1469.3h-7.5" stroke="#000" stroke-width="3"/>
<path d="M144 1557.1h7.5M637.5 1557.1h-7.5" stroke="#000" stroke-width="3"/>
<path d="M144 1644.9h7.5M637.5 1644.9h-7.5" stroke="#000" stroke-width="3"/>
<text x="94.48" y="1305.96" font-family="Liberation Serif" font-size="38">75</text>
<text x="94.45" y="1393.95" font-family="Liberation Serif" font-size="38">60</text>
<text x="94.48" y="1481.62" font-family="Liberation Serif" font-size="38">45</text>
<text x="94.45" y="1569.55" font-family="Liberation Serif" font-size="38">30</text>
<text x="94.48" y="1657.26" font-family="Liberation Serif" font-size="38">15</text>
<text x="208.87" y="1770.96" font-family="Liberation Serif" font-size="38">15</text>
<text x="297.41" y="1771.05" font-family="Liberation Serif" font-size="38">30</text>
<text x="385.77" y="1770.92" font-family="Liberation Serif" font-size="38">45</text>
<text x="473.11" y="1771.05" font-family="Liberation Serif" font-size="38">60</text>
<text x="560.49" y="1770.86" font-family="Liberation Serif" font-size="38">75</text>
<text x="117.25" y="1771.05" font-family="Liberation Serif" font-size="38">0</text>
<rect x="899.5" y="590.2" width="497.9" height="496.9" fill="none" stroke="#000" stroke-width="3"/>
<path d="M986.2 591.7v7.5M986.2 1085.6v-7.5" stroke="#000" stroke-width="3"/>
<path d="M1074.1 591.7v7.5M1074.1 1085.6v-7.5" stroke="#000" stroke-width="3"/>
<path d="M1162.1 591.7v7.5M1162.1 1085.6v-7.5" stroke="#000" stroke-width="3"/>
<path d="M1250 591.7v7.5M1250 1085.6v-7.5" stroke="#000" stroke-width="3"/>
<path d="M1338 591.7v7.5M1338 1085.6v-7.5" stroke="#000" stroke-width="3"/>
<path d="M901 650.3h7.5M1395.9 650.3h-7.5" stroke="#000" stroke-width="3"/>
<path d="M901 738h7.5M1395.9 738h-7.5" stroke="#000" stroke-width="3"/>
<path d="M901 825.7h7.5M1395.9 825.7h-7.5" stroke="#000" stroke-width="3"/>
<path d="M901 913.4h7.5M1395.9 913.4h-7.5" stroke="#000" stroke-width="3"/>
<path d="M901 1001.1h7.5M1395.9 1001.1h-7.5" stroke="#000" stroke-width="3"/>
<text x="851.18" y="662.56" font-family="Liberation Serif" font-size="38">75</text>
<text x="851.15" y="750.45" font-family="Liberation Serif" font-size="38">60</text>
<text x="851.18" y="838.02" font-family="Liberation Serif" font-size="38">45</text>
<text x="851.15" y="925.85" font-family="Liberation Serif" font-size="38">30</text>
<text x="851.18" y="1013.46" font-family="Liberation Serif" font-size="38">15</text>
<text x="966.27" y="1127.16" font-family="Liberation Serif" font-size="38">15</text>
<text x="1054.91" y="1127.25" font-family="Liberation Serif" font-size="38">30</text>
<text x="1143.47" y="1127.12" font-family="Liberation Serif" font-size="38">45</text>
<text x="1230.91" y="1127.25" font-family="Liberation Serif" font-size="38">60</text>
<text x="1318.49" y="1127.06" font-family="Liberation Serif" font-size="38">75</text>
<text x="876.9" y="1121.25" font-family="Liberation Serif" font-size="38">0</text>
<rect x="899.5" y="1233.9" width="497.9" height="497" fill="none" stroke="#000" stroke-width="3"/>
<path d="M986.2 1235.4v7.5M986.2 1729.4v-7.5" stroke="#000" stroke-width="3"/>
<path d="M1074.1 1235.4v7.5M1074.1 1729.4v-7.5" stroke="#000" stroke-width="3"/>
<path d="M1162.1 1235.4v7.5M1162.1 1729.4v-7.5" stroke="#000" stroke-width="3"/>
<path d="M1250 1235.4v7.5M1250 1729.4v-7.5" stroke="#000" stroke-width="3"/>
<path d="M1338 1235.4v7.5M1338 1729.4v-7.5" stroke="#000" stroke-width="3"/>
<path d="M901 1294h7.5M1395.9 1294h-7.5" stroke="#000" stroke-width="3"/>
<path d="M901 1381.75h7.5M1395.9 1381.75h-7.5" stroke="#000" stroke-width="3"/>
<path d="M901 1469.5h7.5M1395.9 1469.5h-7.5" stroke="#000" stroke-width="3"/>
<path d="M901 1557.25h7.5M1395.9 1557.25h-7.5" stroke="#000" stroke-width="3"/>
<path d="M901 1645h7.5M1395.9 1645h-7.5" stroke="#000" stroke-width="3"/>
<text x="851.18" y="1306.26" font-family="Liberation Serif" font-size="38">75</text>
<text x="851.15" y="1394.2" font-family="Liberation Serif" font-size="38">60</text>
<text x="851.18" y="1481.82" font-family="Liberation Serif" font-size="38">45</text>
<text x="851.15" y="1569.7" font-family="Liberation Serif" font-size="38">30</text>
<text x="851.18" y="1657.36" font-family="Liberation Serif" font-size="38">15</text>
<text x="966.27" y="1770.06" font-family="Liberation Serif" font-size="38">15</text>
<text x="1054.91" y="1770.15" font-family="Liberation Serif" font-size="38">30</text>
<text x="1143.47" y="1770.02" font-family="Liberation Serif" font-size="38">45</text>
<text x="1230.91" y="1770.15" font-family="Liberation Serif" font-size="38">60</text>
<text x="1318.49" y="1769.96" font-family="Liberation Serif" font-size="38">75</text>
<text x="876.9" y="1764.45" font-family="Liberation Serif" font-size="38">0</text>
<g transform="translate(285.3 1184)"><text x="-1.65" y="0.22" font-family="Liberation Serif" font-style="italic" font-size="48.9">ω</text><text x="33.26" y="9.29" font-family="Liberation Serif" font-size="33.3">1</text><text x="56.34" y="-0.34" font-family="Liberation Serif" font-size="48.5">(</text><text x="72.64" y="-0.17" font-family="Liberation Serif" font-size="47.5">kHz</text><text x="151.91" y="-0.34" font-family="Liberation Serif" font-size="48.5">)</text></g>
<g transform="translate(1097 1184.5)"><text x="-1.65" y="0.22" font-family="Liberation Serif" font-style="italic" font-size="48.9">ω</text><text x="33.26" y="9.29" font-family="Liberation Serif" font-size="33.3">1</text><text x="56.34" y="-0.34" font-family="Liberation Serif" font-size="48.5">(</text><text x="72.64" y="-0.17" font-family="Liberation Serif" font-size="47.5">kHz</text><text x="151.91" y="-0.34" font-family="Liberation Serif" font-size="48.5">)</text></g>
<g transform="translate(285 1823)"><text x="-1.65" y="0.22" font-family="Liberation Serif" font-style="italic" font-size="48.9">ω</text><text x="33.26" y="9.29" font-family="Liberation Serif" font-size="33.3">1</text><text x="56.34" y="-0.34" font-family="Liberation Serif" font-size="48.5">(</text><text x="72.64" y="-0.17" font-family="Liberation Serif" font-size="47.5">kHz</text><text x="151.91" y="-0.34" font-family="Liberation Serif" font-size="48.5">)</text></g>
<g transform="translate(1099 1831)"><text x="-1.65" y="0.22" font-family="Liberation Serif" font-style="italic" font-size="48.9">ω</text><text x="33.26" y="9.29" font-family="Liberation Serif" font-size="33.3">1</text><text x="56.34" y="-0.34" font-family="Liberation Serif" font-size="48.5">(</text><text x="72.64" y="-0.17" font-family="Liberation Serif" font-size="47.5">kHz</text><text x="151.91" y="-0.34" font-family="Liberation Serif" font-size="48.5">)</text></g>
<g transform="translate(48.6 921) rotate(-90)"><text x="-1.65" y="0.22" font-family="Liberation Serif" font-style="italic" font-size="48.9">ω</text><text x="33.91" y="9.32" font-family="Liberation Serif" font-size="33.3">2</text><text x="56.34" y="-0.34" font-family="Liberation Serif" font-size="48.5">(</text><text x="72.64" y="-0.17" font-family="Liberation Serif" font-size="47.5">kHz</text><text x="151.91" y="-0.34" font-family="Liberation Serif" font-size="48.5">)</text></g>
<g transform="translate(820.8 893.8) rotate(-90)"><text x="-1.65" y="0.22" font-family="Liberation Serif" font-style="italic" font-size="48.9">ω</text><text x="33.91" y="9.32" font-family="Liberation Serif" font-size="33.3">2</text><text x="56.34" y="-0.34" font-family="Liberation Serif" font-size="48.5">(</text><text x="72.64" y="-0.17" font-family="Liberation Serif" font-size="47.5">kHz</text><text x="151.91" y="-0.34" font-family="Liberation Serif" font-size="48.5">)</text></g>
<g transform="translate(68.2 1514.1) rotate(-90)"><text x="-1.65" y="0.22" font-family="Liberation Serif" font-style="italic" font-size="48.9">ω</text><text x="33.91" y="9.32" font-family="Liberation Serif" font-size="33.3">2</text><text x="56.34" y="-0.34" font-family="Liberation Serif" font-size="48.5">(</text><text x="72.64" y="-0.17" font-family="Liberation Serif" font-size="47.5">kHz</text><text x="151.91" y="-0.34" font-family="Liberation Serif" font-size="48.5">)</text></g>
<g transform="translate(820.8 1558.9) rotate(-90)"><text x="-1.65" y="0.22" font-family="Liberation Serif" font-style="italic" font-size="48.9">ω</text><text x="33.91" y="9.32" font-family="Liberation Serif" font-size="33.3">2</text><text x="56.34" y="-0.34" font-family="Liberation Serif" font-size="48.5">(</text><text x="72.64" y="-0.17" font-family="Liberation Serif" font-size="47.5">kHz</text><text x="151.91" y="-0.34" font-family="Liberation Serif" font-size="48.5">)</text></g>
<rect x="1412.5" y="589.3" width="45.3" height="497.5" fill="url(#cb)" stroke="#222" stroke-width="1.6"/>
<rect x="1412.8" y="1230.8" width="44.8" height="504.4" fill="url(#cb)" stroke="#222" stroke-width="1.6"/>
<path d="M1493.9 580.2 L1493.9 605.8 L1491.1 605.8 L1491.1 586.6 L1485.6 589.9 L1484.9 587.2 L1490.3 583.2 L1492.2 580.2Z" fill="#000"/>
<path d="M1493.9 1223.6 L1493.9 1249.2 L1491.1 1249.2 L1491.1 1230 L1485.6 1233.3 L1484.9 1230.6 L1490.3 1226.6 L1492.2 1223.6Z" fill="#000"/>
<text x="1480.59" y="1102.44" font-family="Liberation Sans" font-size="36">0</text>
<text x="1480.59" y="1745.14" font-family="Liberation Sans" font-size="36">0</text></svg>
<script>
(function(){
function jet(v){v=v<0?0:v>1?1:v;v=v*(63/64)+1/64;
 var c=function(t){return t<0?0:t>1?1:t;};
 return [c(1.5-Math.abs(4*v-3))*255,c(1.5-Math.abs(4*v-2))*255,c(1.5-Math.abs(4*v-1))*255];}
var MAP={
 b:[138,5.847,1089.6,5.86], c:[141,5.853,1732.8,5.855],
 e:[898.4,5.865,1088.8,5.847], f:[898.4,5.865,1732.75,5.85]};
function conv(src,dst,x,y,tr){
 var s=MAP[src],d=MAP[dst];
 var f1=(x-s[0])/s[1], f2=(s[2]-y)/s[3];
 if(tr){f1=1.013*f1-1.5;f2=1.013*f2-1.5;}
 return [d[0]+d[1]*f1, d[2]-d[3]*f2];
}
// feature: [x,y,amp,rx,ry,p,angDeg]
function D(x,y,a,rx,ry,p,ang,p2){return [x,y,a,rx,ry===undefined?rx:ry,p||2.5,ang||0,p2||0];}
function row(out,x0,y,n,dx,a0,decay,r,ry,p){ // dotted line horizontal
 for(var k=0;k<n;k++){var a=a0*Math.pow(decay,k); out.push(D(x0+k*dx,y,a,r,ry||r,p||2.5));}}
function col(out,x,y0,n,dy,a0,decay,r,rx,p){
 for(var k=0;k<n;k++){var a=a0*Math.pow(decay,k); out.push(D(x,y0+k*dy,a,rx||r,r,p||2.5));}}
function grid3(out,cx,cy,sx,sy,c,ax,ay,dg,r,p){
 out.push(D(cx,cy,c,r,r,p));
 out.push(D(cx-sx,cy,ax,r,r,p));out.push(D(cx+sx,cy,ax,r,r,p));
 out.push(D(cx,cy-sy,ay,r,r,p));out.push(D(cx,cy+sy,ay,r,r,p));
 out.push(D(cx-sx,cy-sy,dg,r,r,p));out.push(D(cx+sx,cy-sy,dg,r,r,p));
 out.push(D(cx-sx,cy+sy,dg,r,r,p));out.push(D(cx+sx,cy+sy,dg,r,r,p));
}
function xblob(out,cx,cy,d,a,r){out.push(D(cx-d,cy-d,a,r,r,2.2));out.push(D(cx+d,cy-d,a,r,r,2.2));out.push(D(cx-d,cy+d,a,r,r,2.2));out.push(D(cx+d,cy+d,a,r,r,2.2));}
FEATS_B=[];FEATS_E=[];FEATS_C=[];FEATS_F=[];
(function(F){
 F.push(D(312,915,0.05,45,45,2));F.push(D(520,700,0.035,90,90,2));F.push(D(456,770,0.04,30,30,2));
 // main ridge
 F.push(D(312.4,914.8,0.55,14,6.2,2.5,45));F.push(D(312.4,914.8,0.4,22,4.3,2.5,45,3));F.push(D(300.4,902.8,0.17,6,4.5,2.5,45));F.push(D(324.4,926.8,0.17,6,4.5,2.5,45));F.push(D(312.4,914.8,0.1,4.5,3,2,45));
 F.push(D(294.4,896.8,0.47,7,5.5,2.5,45,3));
 F.push(D(330.6,933.0,0.47,7,5.5,2.5,45,3));
 var g=12.2, cx=312.4, cy=914.8, R=4.7;
 [[-1.5,-0.5,.40],[-0.5,0.5,.42],[-0.5,-1.5,.38],[0.5,-0.5,.42],[1.5,-1.5,.30],[1.5,0.5,.35],[-1.5,1.5,.30],[0.5,1.5,.38],
  [-1.5,-2.5,.16],[-0.5,-2.5,.14],[1.5,2.5,.16],[0.5,2.5,.14],[-2.5,-1.5,.12],[-2.5,-0.5,.12],[2.5,1.5,.13],[2.5,0.5,.12],
  [-2.5,0.5,.08],[-2.5,1.5,.08],[2.5,-0.5,.08],[2.5,-1.5,.08],[-0.5,-3.5,.07],[0.5,3.5,.07],[-1.5,-3.5,.07],[1.5,3.5,.07]
 ].forEach(function(t){F.push(D(cx+g*t[0],cy+g*t[1],t[2],R,R,3));});
 // faint cross bands through main cluster
 [-1.5,-0.5,0.5,1.5].forEach(function(o){var a=(Math.abs(o)<1)?0.06:0.04;
  row(F,cx-3.5*g,cy+o*g,14,-g,a,0.93,4.5,4.5,2);row(F,cx+3.5*g,cy+o*g,28,g,a*0.8,0.95,4.5,4.5,2);
  col(F,cx+o*g,cy-3.5*g,28,-g,a*0.8,0.95,4.5,4.5,2);col(F,cx+o*g,cy+3.5*g,14,g,a,0.93,4.5,4.5,2);});
 // 2x2 cyan group
 [[450.1,763.3],[463.8,763.3],[450.1,777.2],[463.8,777.2]].forEach(function(p){F.push(D(p[0],p[1],0.43,5,5,2.4));});
 F.push(D(450.1,750,0.12,4.5,4));F.push(D(450.1,739.8,0.13,4.5,4));F.push(D(450.1,728,0.22,5,4.5,2.2));
 F.push(D(456.9,714.1,0.19,11,4.5,2.2));F.push(D(456.9,700.1,0.19,11,4.5,2.2));
 col(F,450.1,686,8,-13,0.07,0.9,4.5,4.5,2);col(F,463.8,686,8,-13,0.06,0.9,4.5,4.5,2);
 col(F,450.1,791,16,13,0.07,0.92,4.5,4.5,2);col(F,463.8,791,16,13,0.06,0.92,4.5,4.5,2);
 F.push(D(475.5,763.3,0.1,4.5,4.5,2));F.push(D(486.8,777.2,0.1,4.5,4.5,2));
 F.push(D(499.3,776.5,0.2,4.5,7,2.2));F.push(D(512.8,769,0.2,4.5,11,2.2));F.push(D(526.5,769,0.2,4.5,11,2.2));
 row(F,436.4,763.3,10,-13.7,0.07,0.9,4.5,4.5,2);row(F,436.4,777.2,10,-13.7,0.07,0.9,4.5,4.5,2);
 row(F,540,770,7,13.7,0.06,0.9,4.5,8,2);
 // 3x3 at (512.8,714.1)
 grid3(F,512.8,714.1,13.6,14,0.28,0.2,0.2,0.14,5,2.4);
 F.push(D(486.8,714.1,0.1,4.5,4.5,2));F.push(D(540.4,714.1,0.1,4.5,4.5,2));F.push(D(553.9,714.1,0.08,4.5,4.5,2));
 col(F,512.8,741,4,12,0.1,0.85,4.5,4.5,2);
 // 3x3 at (580.8,646.5)
 grid3(F,580.8,646.5,13.3,13.5,0.3,0.21,0.18,0.13,5,2.4);
 F.push(D(552.9,646.5,0.08,4.5,4.5,2));F.push(D(609.4,646.5,0.08,4.5,4.5,2));F.push(D(624,646.5,0.06,4.5,4.5,2));
 col(F,580.8,620,3,-13,0.1,0.8,4.5,4.5,2);col(F,580.8,673,5,13,0.1,0.8,4.5,4.5,2);
 xblob(F,513.3,647.5,8.3,0.09,6.8);
 F.push(D(455.2,645.8,0.1,13,13,2));
 xblob(F,580.8,713.3,8.3,0.09,6.8);
 F.push(D(578.6,770.6,0.09,15,15,2));
})(FEATS_B);
(function(F){
 F.push(D(1175,812,0.07,65,60,2));F.push(D(1070,915,0.06,45,45,2));F.push(D(1250,625,0.045,150,18,2));F.push(D(1297,850,0.04,25,200,2));F.push(D(1360,740,0.05,20,70,2));F.push(D(1297,691,0.05,40,40,2));
 // main cluster
 F.push(D(1063.6,906.0,0.98,8.9,8.9,3));
 F.push(D(1082.0,925.0,0.78,9.5,9.5,2.8));
 F.push(D(1067.4,921.2,0.6,6.5,6.5,3));
 F.push(D(1080.2,909.5,0.48,6,6,3));
 F.push(D(1062,890,0.42,5.5,6,3));
 [[1047.6,889.7,.42],[1046.5,903.1,.40],[1083.9,939.4,.40],[1097.8,939.4,.40],[1059.3,939.4,.22],[1046,926,.2],[1035,903,.15],[1035,889.7,.14],[1110,939.4,.15],[1072,939.4,.18],[1084,953,.13],[1097.7,953,.13],[1047.6,877,.15],[1062,877,.15]
 ].forEach(function(t){F.push(D(t[0],t[1],t[2],5.6,5.6,2.8));});
 F.push(D(1093,898,0.27,11,6.5,2.2,35));F.push(D(1095,925,0.33,6,5,2.4));
 // faint cross bands
 [889.7,903.1,925,939.4].forEach(function(y){row(F,1022,y,12,-11,0.06,0.92,4.5,4.5,2);row(F,1112,y,26,11,0.045,0.95,4.5,4.5,2);});
 [1047.6,1063.6,1082,1097.8].forEach(function(x){col(F,x,955,12,11,0.06,0.92,4.5,4.5,2);col(F,x,876,25,-11,0.04,0.95,4.5,4.5,2);});
 // 2x2 red group
 F.push(D(1350.9,623.5,0.88,6.3,6.3,3));F.push(D(1364.8,623.5,0.88,6.3,6.3,3));
 F.push(D(1350.8,637.5,0.95,6.3,6.3,3));F.push(D(1364.7,637.2,0.87,6.3,6.3,3));
 [[1350.7,610,.3,5.5,4],[1365,610,.3,5.5,4],[1350.7,599.6,.25,5.5,4],[1365,599.6,.22,5.5,4],
  [1336.5,623,.3,4,5.5],[1336.5,637.3,.3,4,5.5],[1326.5,637.2,.25,4,5.5],[1326.5,623,.2,4,5.5],
  [1378.3,622.7,.3,4,5.5],[1378.3,637.3,.25,4,5.5],[1388.2,623.1,.22,4,5.5],[1388.2,637.3,.18,4,5.5],
  [1350.7,650.3,.3,5.5,4],[1365,650.3,.2,5.5,4],[1350.7,660.4,.22,5.5,4],[1365,660.4,.15,5.5,4]
 ].forEach(function(t){F.push(D(t[0],t[1],t[2],t[3],t[4],2.6));});
 // vertical streaks left of 2x2
 F.push(D(1283.3,630,0.40,5.5,12,2.6,-8));F.push(D(1296.9,630,0.33,5.5,12,2.6,-8));F.push(D(1309.7,626,0.37,5.5,10,2.6,-8));
 F.push(D(1271,630,0.2,4,9,2.5));F.push(D(1259,630,0.15,4,9,2.5));
 row(F,1247,623,14,-11,0.08,0.92,4.5,6,2);row(F,1247,637,14,-11,0.07,0.92,4.5,6,2);
 F.push(D(1200,626.8,0.15,16,10,2));
 // 3x3 at (1297.1,691)
 F.push(D(1297.1,691,0.87,6.3,6.3,3.5));
 [[-1,0],[1,0],[0,-1],[0,1]].forEach(function(o){F.push(D(1297.1+13.35*o[0],691+13.1*o[1],0.55,5.7,5.7,3.5));});
 [[-1,-1],[1,-1],[-1,1],[1,1]].forEach(function(o){F.push(D(1297.1+13.35*o[0],691+13.1*o[1],0.40,5,5,3.2));});
 [[1271.5,691,.25,4,5.5],[1322.2,691,.25,4,5.5],[1296.9,665.2,.25,5.5,4],[1310.3,665.6,.2,5.5,4],[1283.6,665.6,.15,5.5,4],
  [1296.9,716.5,.25,5.5,4],[1283.6,716.5,.18,5.5,4],[1310.3,716.5,.18,5.5,4],[1271.5,678,.15,4,5],[1271.5,704,.15,4,5],[1322.2,678,.15,4,5],[1322.2,704,.15,4,5]
 ].forEach(function(t){F.push(D(t[0],t[1],t[2],t[3],t[4],2.6));});
 row(F,1261,691,4,-10.4,0.16,0.85,4.5,5,2.2);F.push(D(1332.3,691,0.16,4,5,2.4));
 col(F,1296.9,654.8,1,-10.4,0.2,0.88,4.5,4.5,2.2);
 [1283.6,1297.1,1310.3].forEach(function(x){col(F,x,726.1,4,9.7,0.16,0.8,5,4.5,2.2);col(F,x,775,30,11,0.045,0.96,4.5,4.5,2);});
 row(F,1220,691,30,-11,0.05,0.94,4.5,4.5,2);
 // right cluster
 F.push(D(1357,703.7,0.42,12,5,2.5,-5));F.push(D(1361.7,678,0.38,6.5,5.5,2.5));F.push(D(1355,690.9,0.3,10,4.5,2.5));
 col(F,1357,716,6,10,0.1,0.85,4.5,6,2);col(F,1372,716,8,10,0.06,0.9,4.5,5,2);
 // X blobs
 F.push(D(1190.6,683,0.19,6,6,2.2));F.push(D(1214.9,682.1,0.28,8,5.5,2.2,-30));F.push(D(1189.6,699.9,0.19,7,5,2.2,-35));F.push(D(1212.5,699.4,0.28,6.5,6.5,2.2));
 F.push(D(1288.6,774.8,0.28,6.5,6.5,2.2));F.push(D(1305.9,772,0.28,7.5,5.5,2.2,-45));F.push(D(1288.2,799,0.2,7.5,5.5,2.2,-50));F.push(D(1304,796.7,0.2,6.5,6.5,2.2));
 // middle region dots
 [[1151.3,766.4,.28],[1165.7,766.4,.28],[1151.3,780,.28],[1165.7,780,.28],[1152.1,804,.22],[1166.5,804,.22],
  [1207.3,822.5,.3],[1220.9,822.5,.3],[1207.3,836.1,.3],[1220.9,836.1,.3],[1182.5,820.1,.22],[1182.5,834.5,.22],[1195.3,820.1,.22],
  [1124.1,849.7,.3],[1137.7,849.7,.3],[1124.1,863.3,.3],[1137.7,863.3,.3],
  [1194.4,766.4,.2],[1180,780,.16],[1194.4,780,.16],[1180,794,.15],[1194.4,808,.15],[1166.5,818,.15],[1151.3,818,.12],
  [1137.7,766.4,.12],[1137.7,780,.12],[1124.1,835,.15],[1137.7,835,.15],[1151,849.7,.12]
 ].forEach(function(t){F.push(D(t[0],t[1],t[2],5,5,2.6));});
 F.push(D(1160.1,858.5,0.28,8.5,6.5,2.2));F.push(D(1128.1,826.5,0.25,7.5,7.5,2.2));F.push(D(1118,815,0.2,6.5,6.5,2.2));
 row(F,1110,766.4,10,-11,0.05,0.9,4.5,4.5,2);row(F,1110,780,10,-11,0.05,0.9,4.5,4.5,2);
 col(F,1151.3,740,10,-11,0.04,0.92,4.5,4.5,2);col(F,1165.7,740,10,-11,0.04,0.92,4.5,4.5,2);
 // long faint row at top
 row(F,1236,612,30,-11.5,0.06,0.97,4.5,5,2);row(F,1236,624,30,-11.5,0.06,0.97,4.5,5,2);row(F,1236,637,30,-11.5,0.05,0.97,4.5,5,2);
 col(F,1350.8,675,30,12,0.045,0.96,4.5,4.5,2);col(F,1364.7,675,30,12,0.04,0.96,4.5,4.5,2);
})(FEATS_E);
(function(F){
 F.push(D(309,1564,0.045,75,22,2,45));
 F.push(D(380,1490,0.02,110,30,2,-45));
})(FEATS_C);
(function(F){
})(FEATS_F);
function render(id,groups){
 var cv=document.getElementById('hm'+id); if(!cv||!cv.getContext) return;
 var ctx=cv.getContext('2d'); var W=cv.width,H=cv.height;
 var L=parseFloat(cv.style.left),T=parseFloat(cv.style.top);
 var A=new Float32Array(W*H);
 for(var gi=0;gi<groups.length;gi++){var feats=groups[gi][0],src=groups[gi][1],tr=groups[gi][2];
 for(var i=0;i<feats.length;i++){
  var ft=feats[i]; var c=(src==id)?[ft[0],ft[1]]:conv(src,id,ft[0],ft[1],tr);
  var x=c[0]-L-0.5,y=c[1]-T-0.5,a=ft[2]*((id=='c'&&src=='b'&&ft[0]>420&&ft[2]<0.4)?0.8:1),rx=ft[3],ry=ft[4],p=ft[5],an=ft[6]*Math.PI/180,p2=ft[7];
  var ca=Math.cos(an),sa=Math.sin(an); var R=Math.max(rx,ry)*(p<2.4?3.2:2.4);
  var x0=Math.max(0,Math.floor(x-R)),x1=Math.min(W-1,Math.ceil(x+R)),y0=Math.max(0,Math.floor(y-R)),y1=Math.min(H-1,Math.ceil(y+R));
  for(var yy=y0;yy<=y1;yy++){var dy=yy-y;for(var xx=x0;xx<=x1;xx++){var dx=xx-x;
   var u=(dx*ca+dy*sa)/rx, v=(-dx*sa+dy*ca)/ry;
   if(p2){A[yy*W+xx]+=a*Math.exp(-Math.pow(Math.abs(u),p)-Math.pow(Math.abs(v),p2));}
   else{var r2=u*u+v*v; A[yy*W+xx]+=a*Math.exp(-Math.pow(r2,p/2));}}}
 }}
 var img=ctx.createImageData(W,H),d=img.data;
 for(var k=0;k<W*H;k++){var v=A[k];var q=jet(v);d[4*k]=q[0];d[4*k+1]=q[1];d[4*k+2]=q[2];d[4*k+3]=255;}
 ctx.putImageData(img,0,0);
}
render('b',[[FEATS_B,'b',false]]);
render('c',[[FEATS_B,'b',true],[FEATS_C,'c',false]]);
render('e',[[FEATS_E,'e',false]]);
render('f',[[FEATS_E,'e',true],[FEATS_F,'f',false]]);
})();

</script>
</body></html>
